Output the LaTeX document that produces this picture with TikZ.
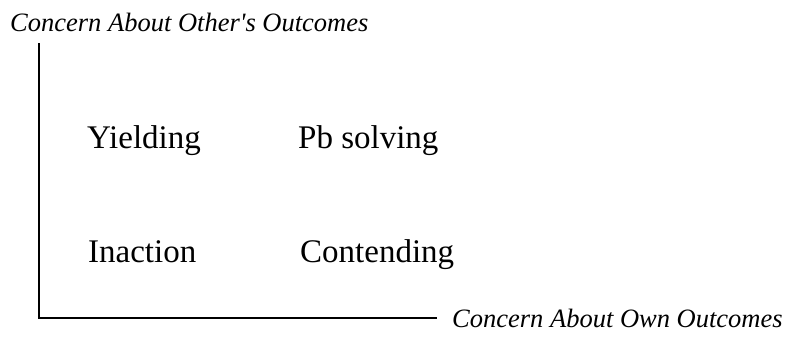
\documentclass[tikz,border=0pt]{standalone}
\usepackage{fontspec}
\setmainfont{Liberation Serif}[Ligatures=TeXOff]
\begin{document}
\begin{tikzpicture}[x=1pt,y=-1pt,
  axislabel/.style={font=\fontsize{26.5}{30}\selectfont\itshape, inner sep=0pt, anchor=base west},
  region/.style={font=\fontsize{33}{38}\selectfont, inner sep=0pt, anchor=base west},
  axis/.style={line width=1.6pt}]
\useasboundingbox (0,0) rectangle (792,356);
\coordinate (top) at (39,43);
\coordinate (origin) at (39,318);
\coordinate (right) at (437,318);
\draw[axis] (top) -- (origin) -- (right);
\node[axislabel] (ylab) at (10,31) {Concern About Other's Outcomes};
\node[axislabel] (xlab) at (452,327) {Concern About Own Outcomes};
\node[region] (yield) at (87,148) {Yielding};
\node[region] (pb) at (298,148) {Pb solving};
\node[region] (inact) at (88,262) {Inaction};
\node[region] (cont) at (300,262) {Contending};
\end{tikzpicture}
\end{document}
